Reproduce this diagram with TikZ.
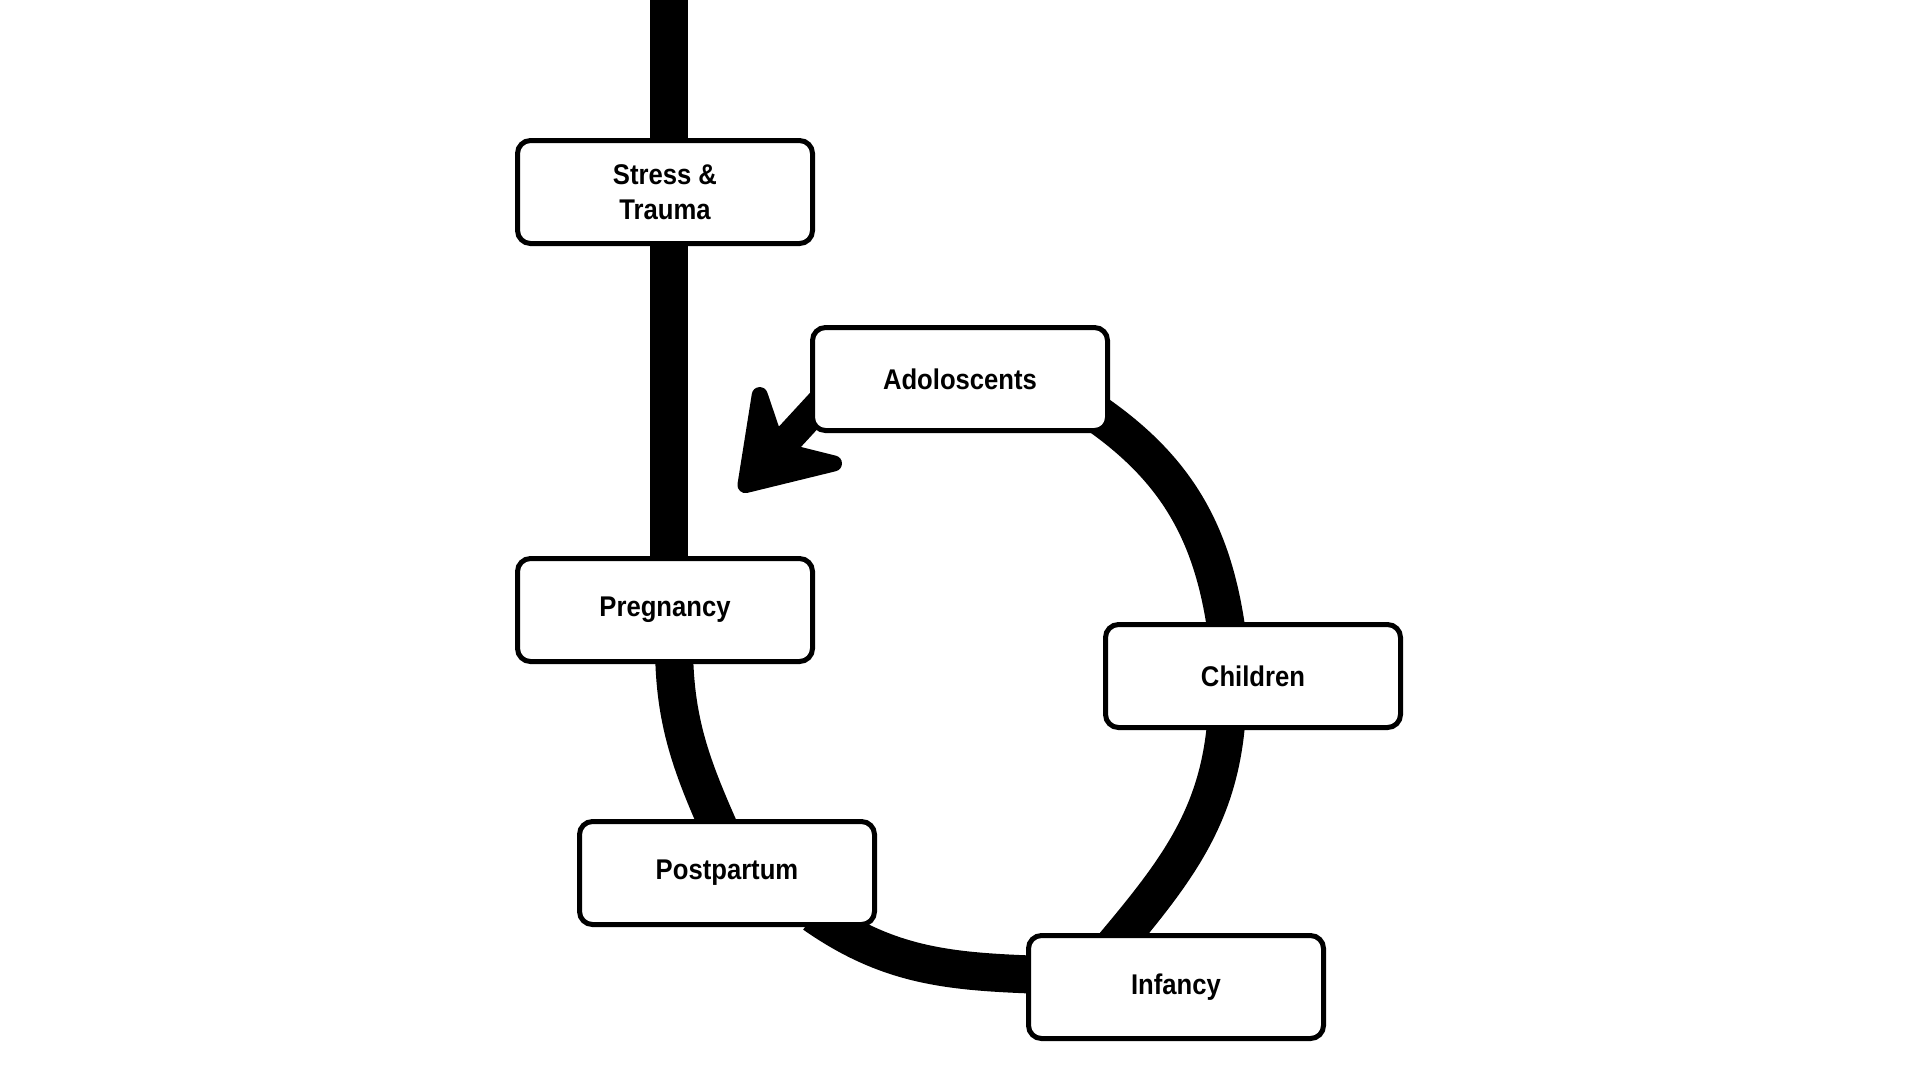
\documentclass[tikz,border=0pt]{standalone}
\usepackage{fontspec}
\setmainfont{Liberation Sans}[FakeStretch=0.9]
\usetikzlibrary{arrows.meta}
\pgfdeclarelayer{background}
\pgfsetlayers{background,main}
\begin{document}
\begin{tikzpicture}[x=1pt,y=1pt,
  box/.style={draw=black, line width=5pt, rounded corners=13pt, fill=white,
    minimum width=295pt, minimum height=103pt, inner sep=0pt, align=center,
    font=\fontsize{28.5}{35}\selectfont\bfseries},
  flow/.style={line width=38pt, black},
  pointer/.style={line width=30pt, black,
    -{Stealth[length=112pt,width=148pt,inset=40pt,line width=16pt,round]}}]
\useasboundingbox (0,0) rectangle (1920,-1080);

\node[box] (stress) at (665,-192) {Stress \&\\Trauma};
\node[box] (ado)    at (960,-379) {Adoloscents};
\node[box] (preg)   at (665,-610) {Pregnancy};
\node[box] (child)  at (1253,-676) {Children};
\node[box] (post)   at (727,-873) {Postpartum};
\node[box] (inf)    at (1176,-987) {Infancy};
\coordinate (top) at (669,20);
\coordinate (tip) at (740,-491);

\begin{pgfonlayer}{background}
\fill[white] (0,0) rectangle (1920,-1080);
\draw[flow] (top) -- (top |- stress.center);
\draw[flow] (top |- stress.center) -- (top |- preg.center);
\draw[flow] ([xshift=9pt,yshift=20pt]preg.south) to[out=-90,in=114]
  ([xshift=-4pt,yshift=-18pt]post.north);
\draw[flow] ([xshift=87pt,yshift=13pt]post.south) to[out=-35,in=178]
  ([xshift=19pt,yshift=12pt]inf.west);
\draw[flow] ([xshift=-64pt,yshift=-15pt]inf.north) to[out=50,in=-93]
  ([xshift=-26pt,yshift=20pt]child.south);
\draw[flow] ([xshift=-25pt,yshift=-20pt]child.north) to[out=97,in=-35]
  ([xshift=-13pt,yshift=19pt]ado.south east);
\draw[pointer] ([xshift=23pt,yshift=-11pt]ado.west) -- (tip);
\end{pgfonlayer}
\end{tikzpicture}
\end{document}
